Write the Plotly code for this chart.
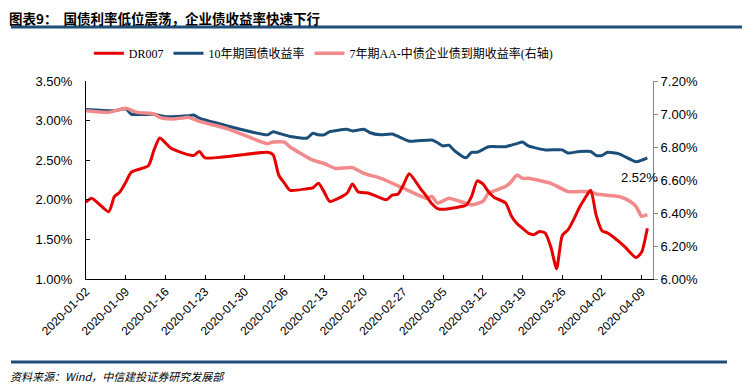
import plotly.graph_objects as go

# ---------------- data ----------------
dr007_dates = ["2020-01-02","2020-01-03","2020-01-06","2020-01-07","2020-01-08","2020-01-09","2020-01-10",
               "2020-01-13","2020-01-14","2020-01-15","2020-01-16","2020-01-17","2020-01-20","2020-01-21",
               "2020-01-22","2020-01-23","2020-02-03","2020-02-04","2020-02-05","2020-02-06","2020-02-07",
               "2020-02-10","2020-02-11","2020-02-12","2020-02-13","2020-02-14","2020-02-17","2020-02-18",
               "2020-02-19","2020-02-20","2020-02-21","2020-02-24","2020-02-25","2020-02-26","2020-02-27",
               "2020-02-28","2020-03-01","2020-03-02","2020-03-03","2020-03-04","2020-03-05","2020-03-07",
               "2020-03-09","2020-03-10","2020-03-11","2020-03-12","2020-03-13","2020-03-14","2020-03-16",
               "2020-03-17","2020-03-18","2020-03-19","2020-03-20","2020-03-21","2020-03-22","2020-03-23",
               "2020-03-24","2020-03-25","2020-03-26","2020-03-27","2020-03-28","2020-03-29","2020-03-30",
               "2020-03-31","2020-04-01","2020-04-02","2020-04-03","2020-04-04","2020-04-06","2020-04-08",
               "2020-04-09","2020-04-10"]
dr007_vals = [1.97,2.02,1.85,2.04,2.10,2.22,2.35,
              2.43,2.63,2.78,2.72,2.65,2.57,2.56,
              2.61,2.53,2.60,2.57,2.31,2.21,2.12,
              2.14,2.15,2.21,2.10,1.98,2.08,2.20,
              2.10,2.09,2.08,2.00,2.06,2.07,2.19,
              2.33,2.14,2.05,1.95,1.89,1.88,1.90,
              1.93,2.04,2.24,2.20,2.10,2.03,1.96,
              1.80,1.70,1.64,1.58,1.56,1.60,1.58,
              1.40,1.13,1.55,1.62,1.75,1.90,2.02,
              2.12,1.80,1.61,1.58,1.53,1.41,1.27,
              1.34,1.64]

gov10_dates = ["2020-01-02","2020-01-07","2020-01-09","2020-01-10","2020-01-14","2020-01-16","2020-01-20",
               "2020-01-21","2020-01-22","2020-01-26","2020-02-03","2020-02-04","2020-02-05","2020-02-07",
               "2020-02-10","2020-02-11","2020-02-12","2020-02-13","2020-02-14","2020-02-17","2020-02-18",
               "2020-02-20","2020-02-21","2020-02-23","2020-02-25","2020-02-28","2020-03-03","2020-03-04",
               "2020-03-05","2020-03-06","2020-03-07","2020-03-09","2020-03-10","2020-03-11","2020-03-13",
               "2020-03-16","2020-03-17","2020-03-18","2020-03-19","2020-03-20","2020-03-23","2020-03-26",
               "2020-03-27","2020-03-29","2020-03-31","2020-04-01","2020-04-02","2020-04-03","2020-04-05",
               "2020-04-08","2020-04-09","2020-04-10"]
gov10_vals = [3.14,3.125,3.15,3.08,3.08,3.05,3.06,
              3.07,3.03,2.95,2.82,2.86,2.84,2.80,
              2.78,2.84,2.82,2.82,2.86,2.89,2.87,
              2.89,2.85,2.82,2.83,2.74,2.755,2.72,
              2.68,2.69,2.62,2.53,2.60,2.60,2.67,
              2.67,2.69,2.71,2.73,2.68,2.63,2.63,
              2.59,2.61,2.61,2.56,2.56,2.60,2.58,
              2.48,2.50,2.53]

aa7_dates = ["2020-01-02","2020-01-06","2020-01-09","2020-01-11","2020-01-14","2020-01-15","2020-01-17",
             "2020-01-19","2020-01-20","2020-01-22","2020-01-27","2020-02-03","2020-02-04","2020-02-06",
             "2020-02-07","2020-02-11","2020-02-13","2020-02-15","2020-02-18","2020-02-20","2020-02-23",
             "2020-02-27","2020-03-02","2020-03-03","2020-03-04","2020-03-06","2020-03-08","2020-03-10",
             "2020-03-12","2020-03-13","2020-03-16","2020-03-17","2020-03-18","2020-03-19","2020-03-20",
             "2020-03-24","2020-03-27","2020-03-31","2020-04-01","2020-04-05","2020-04-07","2020-04-08",
             "2020-04-09","2020-04-10"]
aa7_vals = [7.02,7.01,7.035,7.01,7.00,6.98,6.97,
            6.975,6.98,6.955,6.91,6.82,6.83,6.83,
            6.80,6.72,6.70,6.67,6.675,6.64,6.61,
            6.55,6.49,6.50,6.46,6.49,6.47,6.45,
            6.47,6.52,6.56,6.59,6.63,6.61,6.61,
            6.58,6.53,6.53,6.515,6.50,6.47,6.44,
            6.38,6.39]

x_tick_labels = ["2020-01-02","2020-01-09","2020-01-16","2020-01-23","2020-01-30","2020-02-06",
                 "2020-02-13","2020-02-20","2020-02-27","2020-03-05","2020-03-12","2020-03-19",
                 "2020-03-26","2020-04-02","2020-04-09"]
left_ticks = [1.0, 1.5, 2.0, 2.5, 3.0, 3.5]
right_ticks = [6.0, 6.2, 6.4, 6.6, 6.8, 7.0, 7.2]

names = ["DR007", "10年期国债收益率", "7年期AA-中债企业债到期收益率(右轴)"]
title_text = "图表9：  国债利率低位震荡，企业债收益率快速下行"
source_text = "资料来源：Wind，中信建投证券研究发展部"
last_label = "2.52%"

# ---------------- figure ----------------
RED = "#E60000"
BLUE = "#1B4F7A"
PINK = "#F28A8C"
NAVY = "#1F4E79"

fig = go.Figure()
fig.add_trace(go.Scatter(x=dr007_dates, y=dr007_vals, name=names[0], mode="lines",
                         line=dict(color=RED, width=3, shape="spline", smoothing=0.6), yaxis="y3"))
fig.add_trace(go.Scatter(x=gov10_dates, y=gov10_vals, name=names[1], mode="lines",
                         line=dict(color=BLUE, width=3, shape="spline", smoothing=0.5), yaxis="y"))
fig.add_trace(go.Scatter(x=aa7_dates, y=aa7_vals, name=names[2], mode="lines",
                         line=dict(color=PINK, width=3.5, shape="spline", smoothing=0.5), yaxis="y2"))

tickfont = dict(family="Liberation Sans, Arial, sans-serif", size=13, color="#000000")

# the page body adds an 8px offset, so the figure is 8px smaller and margins are shifted
fig.update_layout(
    width=742, height=380,
    margin=dict(l=78, r=97, t=73, b=109, autoexpand=False),
    paper_bgcolor="white", plot_bgcolor="white",
    showlegend=True,
    legend=dict(orientation="h", x=0.005, y=1.14, xanchor="left", yanchor="middle",
                font=dict(family="Liberation Serif, Noto Sans CJK SC, serif", size=12, color="#000000"),
                traceorder="normal", itemwidth=30, bgcolor="rgba(0,0,0,0)"),
    xaxis=dict(type="date", range=["2020-01-02", "2020-04-11"],
               tickvals=x_tick_labels, ticktext=x_tick_labels, tickangle=-45,
               showgrid=False, zeroline=False, showline=True, linecolor="#000000", linewidth=1,
               ticks="inside", ticklen=4, tickcolor="#000000", automargin=False,
               tickfont=dict(family="Liberation Sans, Arial, sans-serif", size=12, color="#000000")),
    yaxis=dict(range=[1.0, 3.5], tickvals=left_ticks, ticktext=[f"{v:.2f}%" for v in left_ticks],
               showgrid=False, zeroline=False, showline=True, linecolor="#000000", linewidth=1,
               ticks="inside", ticklen=4, tickcolor="#000000", tickfont=tickfont,
               ticklabelstandoff=10, automargin=False),
    yaxis2=dict(range=[6.0, 7.2], tickvals=right_ticks, ticktext=[f"{v:.2f}%" for v in right_ticks],
                overlaying="y", side="right",
                showgrid=False, zeroline=False, showline=True, linecolor="#888888", linewidth=1,
                ticks="outside", ticklen=4, tickcolor="#888888", tickfont=tickfont, automargin=False),
    yaxis3=dict(range=[1.0, 3.5], overlaying="y", side="left", visible=False),
)

# decorative rules (header and footer lines)
fig.add_shape(type="line", xref="paper", yref="paper", x0=-0.1323, x1=1.171, y0=1.2727, y1=1.2727,
              line=dict(color=NAVY, width=3))
fig.add_shape(type="line", xref="paper", yref="paper", x0=-0.1323, x1=1.1305, y0=-0.419, y1=-0.419,
              line=dict(color=NAVY, width=3))

fig.add_annotation(text="<b>" + title_text + "</b>", xref="paper", yref="paper", x=-0.1376, y=1.3207,
                   xanchor="left", yanchor="middle", showarrow=False, borderpad=0,
                   font=dict(family="Noto Sans CJK SC, sans-serif", size=13.5, color="#000000"))
fig.add_annotation(text="<i>" + source_text + "</i>", xref="paper", yref="paper", x=-0.1376, y=-0.49,
                   xanchor="left", yanchor="middle", showarrow=False,
                   font=dict(family="Noto Sans CJK SC, sans-serif", size=11, color="#000000"))
fig.add_annotation(text=last_label, xref="x", yref="y", x=gov10_dates[-1], y=gov10_vals[-1],
                   xanchor="center", yanchor="middle", xshift=-8, yshift=-20, showarrow=False,
                   font=dict(family="Liberation Sans, Arial, sans-serif", size=13, color="#000000"))

fig.write_html("out.html")
